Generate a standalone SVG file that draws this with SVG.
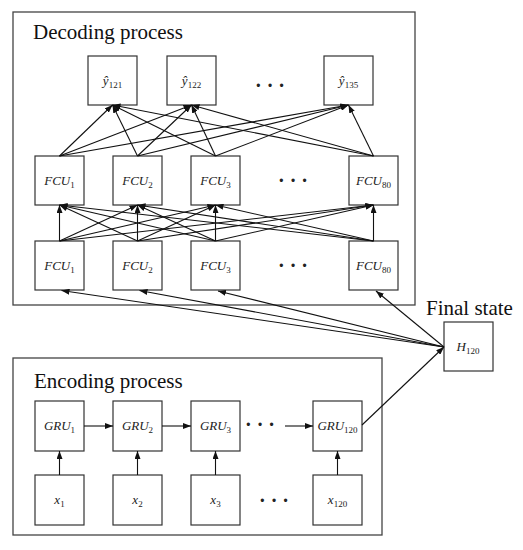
<svg xmlns="http://www.w3.org/2000/svg" width="523" height="550" viewBox="0 0 523 550">
<style>
.frame{fill:#fff;stroke:#444;stroke-width:1.3}
.box{fill:#fff;stroke:#333;stroke-width:1.2}
.title{font-family:"Liberation Serif","Times New Roman",serif;font-size:21px;fill:#111}
.lbl{font-family:"Liberation Serif","Times New Roman",serif;font-style:italic;font-size:13px;fill:#222;text-anchor:middle}
.sub{font-style:normal;font-size:9px}
.dots{font-family:"Liberation Serif",serif;font-size:20px;font-weight:bold;fill:#222;text-anchor:middle}
.c line{stroke:#111;stroke-width:1.1;marker-end:url(#ah)}
</style>
<defs>
<marker id="ah" markerUnits="userSpaceOnUse" markerWidth="8" markerHeight="6" refX="8" refY="3" orient="auto">
<path d="M0,0 L8,3 L0,6 z" fill="#111"/>
</marker>
</defs>
<rect width="523" height="550" fill="#fff"/>
<g id="decoding">
<rect class="frame" x="13" y="12" width="402" height="293"/>
<text class="title" x="33" y="39">Decoding process</text>
</g>
<g id="encoding">
<rect class="frame" x="13" y="358" width="369" height="177"/>
<text class="title" x="34" y="388">Encoding process</text>
</g>
<text class="title" x="426" y="315">Final state</text>

<g id="yhat121"><rect class="box" x="88" y="56" width="49" height="49"/><text class="lbl" x="112.5" y="85">ŷ<tspan class="sub" dy="3">121</tspan></text></g>
<g id="yhat122"><rect class="box" x="167" y="56" width="49" height="49"/><text class="lbl" x="191.5" y="85">ŷ<tspan class="sub" dy="3">122</tspan></text></g>
<g id="yhat135"><rect class="box" x="324" y="56" width="49" height="49"/><text class="lbl" x="348.5" y="85">ŷ<tspan class="sub" dy="3">135</tspan></text></g>
<text class="dots" x="270" y="92">· · ·</text>

<g id="fcuA1"><rect class="box" x="35" y="156" width="49" height="49"/><text class="lbl" x="59.5" y="185">FCU<tspan class="sub" dy="3">1</tspan></text></g>
<g id="fcuA2"><rect class="box" x="113" y="156" width="49" height="49"/><text class="lbl" x="137.5" y="185">FCU<tspan class="sub" dy="3">2</tspan></text></g>
<g id="fcuA3"><rect class="box" x="191" y="156" width="49" height="49"/><text class="lbl" x="215.5" y="185">FCU<tspan class="sub" dy="3">3</tspan></text></g>
<g id="fcuA80"><rect class="box" x="349" y="156" width="49" height="49"/><text class="lbl" x="373.5" y="185">FCU<tspan class="sub" dy="3">80</tspan></text></g>
<text class="dots" x="293" y="187">· · ·</text>

<g id="fcuB1"><rect class="box" x="35" y="241" width="49" height="49"/><text class="lbl" x="59.5" y="270">FCU<tspan class="sub" dy="3">1</tspan></text></g>
<g id="fcuB2"><rect class="box" x="113" y="241" width="49" height="49"/><text class="lbl" x="137.5" y="270">FCU<tspan class="sub" dy="3">2</tspan></text></g>
<g id="fcuB3"><rect class="box" x="191" y="241" width="49" height="49"/><text class="lbl" x="215.5" y="270">FCU<tspan class="sub" dy="3">3</tspan></text></g>
<g id="fcuB80"><rect class="box" x="349" y="241" width="49" height="49"/><text class="lbl" x="373.5" y="270">FCU<tspan class="sub" dy="3">80</tspan></text></g>
<text class="dots" x="293" y="272">· · ·</text>

<g id="h120"><rect class="box" x="444" y="322" width="49" height="49"/><text class="lbl" x="468" y="351">H<tspan class="sub" dy="3">120</tspan></text></g>

<g id="gru1"><rect class="box" x="35" y="401" width="49" height="50"/><text class="lbl" x="59.5" y="430">GRU<tspan class="sub" dy="3">1</tspan></text></g>
<g id="gru2"><rect class="box" x="113" y="401" width="49" height="50"/><text class="lbl" x="137.5" y="430">GRU<tspan class="sub" dy="3">2</tspan></text></g>
<g id="gru3"><rect class="box" x="191" y="401" width="49" height="50"/><text class="lbl" x="215.5" y="430">GRU<tspan class="sub" dy="3">3</tspan></text></g>
<g id="gru120"><rect class="box" x="313" y="401" width="49" height="50"/><text class="lbl" x="337.5" y="430">GRU<tspan class="sub" dy="3">120</tspan></text></g>
<text class="dots" x="260" y="431">· · ·</text>

<g id="x1"><rect class="box" x="35" y="475" width="49" height="50"/><text class="lbl" x="59.5" y="504">x<tspan class="sub" dy="3">1</tspan></text></g>
<g id="x2"><rect class="box" x="113" y="475" width="49" height="50"/><text class="lbl" x="137.5" y="504">x<tspan class="sub" dy="3">2</tspan></text></g>
<g id="x3"><rect class="box" x="191" y="475" width="49" height="50"/><text class="lbl" x="215.5" y="504">x<tspan class="sub" dy="3">3</tspan></text></g>
<g id="x120"><rect class="box" x="313" y="475" width="49" height="50"/><text class="lbl" x="337.5" y="504">x<tspan class="sub" dy="3">120</tspan></text></g>
<text class="dots" x="274" y="507">· · ·</text>

<g id="connectors" class="c">
<line x1="59.5" y1="156" x2="112.5" y2="105"/>
<line x1="59.5" y1="156" x2="191.5" y2="105"/>
<line x1="59.5" y1="156" x2="348.5" y2="105"/>
<line x1="137.5" y1="156" x2="112.5" y2="105"/>
<line x1="137.5" y1="156" x2="191.5" y2="105"/>
<line x1="137.5" y1="156" x2="348.5" y2="105"/>
<line x1="215.5" y1="156" x2="112.5" y2="105"/>
<line x1="215.5" y1="156" x2="191.5" y2="105"/>
<line x1="215.5" y1="156" x2="348.5" y2="105"/>
<line x1="373.5" y1="156" x2="112.5" y2="105"/>
<line x1="373.5" y1="156" x2="191.5" y2="105"/>
<line x1="373.5" y1="156" x2="348.5" y2="105"/>

<line x1="59.5" y1="241" x2="59.5" y2="205"/>
<line x1="59.5" y1="241" x2="137.5" y2="205"/>
<line x1="59.5" y1="241" x2="215.5" y2="205"/>
<line x1="59.5" y1="241" x2="373.5" y2="205"/>
<line x1="137.5" y1="241" x2="59.5" y2="205"/>
<line x1="137.5" y1="241" x2="137.5" y2="205"/>
<line x1="137.5" y1="241" x2="215.5" y2="205"/>
<line x1="137.5" y1="241" x2="373.5" y2="205"/>
<line x1="215.5" y1="241" x2="59.5" y2="205"/>
<line x1="215.5" y1="241" x2="137.5" y2="205"/>
<line x1="215.5" y1="241" x2="215.5" y2="205"/>
<line x1="215.5" y1="241" x2="373.5" y2="205"/>
<line x1="373.5" y1="241" x2="59.5" y2="205"/>
<line x1="373.5" y1="241" x2="137.5" y2="205"/>
<line x1="373.5" y1="241" x2="215.5" y2="205"/>
<line x1="373.5" y1="241" x2="373.5" y2="205"/>

<line x1="444" y1="347" x2="61.5" y2="290.5"/>
<line x1="444" y1="347" x2="139.5" y2="290.5"/>
<line x1="444" y1="347" x2="218" y2="291"/>
<line x1="444" y1="347" x2="376" y2="291"/>

<line x1="362" y1="425" x2="444" y2="347"/>

<line x1="84" y1="426" x2="113" y2="426"/>
<line x1="162" y1="426" x2="191" y2="426"/>
<line x1="285" y1="426" x2="313" y2="426"/>

<line x1="59.5" y1="475" x2="59.5" y2="451"/>
<line x1="137.5" y1="475" x2="137.5" y2="451"/>
<line x1="215.5" y1="475" x2="215.5" y2="451"/>
<line x1="337.5" y1="475" x2="337.5" y2="451"/>
</g>
</svg>
